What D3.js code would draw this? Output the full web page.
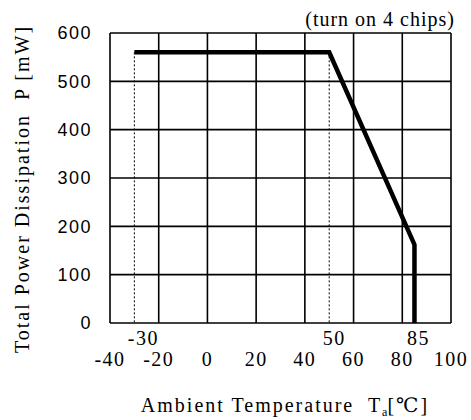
<!DOCTYPE html>
<html>
<head>
<meta charset="utf-8">
<script src="https://cdn.jsdelivr.net/npm/d3@7"></script>
<style>
  body { margin: 0; background: #fff; }
  text { font-family: "Liberation Serif", "DejaVu Serif", serif; fill: #000; }
</style>
</head>
<body>
<div id="chart"></div>
<script>
// derating curve (temperature in C, power in mW)
const curveTemp = [-30, 50, 85, 85];
const curvePower = [560, 560, 162, 0];
const xTicks = [-40, -20, 0, 20, 40, 60, 80, 100];
const yTicks = [0, 100, 200, 300, 400, 500, 600];
const markTemps = [-30, 50, 85];   // upper row of x labels
const dottedTemps = [-30, 50];

const width = 471, height = 420;
const margin = {top: 33, right: 20, bottom: 97, left: 110};

const svg = d3.select("#chart").append("svg")
    .attr("width", width)
    .attr("height", height);

const x = d3.scaleLinear().domain([-40, 100]).range([margin.left, width - margin.right]);
const y = d3.scaleLinear().domain([0, 600]).range([height - margin.bottom, margin.top]);

// grid
svg.append("g").selectAll("line")
    .data(xTicks)
    .enter().append("line")
    .attr("x1", d => x(d)).attr("x2", d => x(d))
    .attr("y1", y(0)).attr("y2", y(600))
    .attr("stroke", "#000").attr("stroke-width", 1.6);
svg.append("g").selectAll("line")
    .data(yTicks)
    .enter().append("line")
    .attr("x1", x(-40)).attr("x2", x(100))
    .attr("y1", d => y(d)).attr("y2", d => y(d))
    .attr("stroke", "#000").attr("stroke-width", 1.6);

// dotted guides
svg.append("g").selectAll("line")
    .data(dottedTemps)
    .enter().append("line")
    .attr("x1", d => x(d)).attr("x2", d => x(d))
    .attr("y1", y(curvePower[0])).attr("y2", y(0))
    .attr("stroke", "#000").attr("stroke-width", 1)
    .attr("stroke-dasharray", "2,2");

// curve
const pts = curveTemp.map((t, i) => [t, curvePower[i]]);
svg.append("path")
    .attr("d", d3.line().x(d => x(d[0])).y(d => y(d[1]))(pts))
    .attr("fill", "none")
    .attr("stroke", "#000")
    .attr("stroke-width", 4.5)
    .attr("stroke-linejoin", "miter");

// y tick labels
svg.append("g").selectAll("text")
    .data(yTicks)
    .enter().append("text")
    .attr("x", 92)
    .attr("y", d => y(d))
    .attr("dy", "0.35em")
    .attr("text-anchor", "end")
    .style("font-family", "'Liberation Sans', Arial, sans-serif")
    .style("font-size", "18px")
    .style("letter-spacing", "1.5px")
    .text(d => d);

// x tick labels
svg.append("g").selectAll("text")
    .data(xTicks)
    .enter().append("text")
    .attr("x", d => x(d))
    .attr("y", 366)
    .attr("text-anchor", "middle")
    .style("font-size", "20px")
    .style("letter-spacing", "1.5px")
    .text(d => d);

// special temperatures
const markShift = {"-30": 9, "50": 5, "85": 4};
svg.append("g").selectAll("text")
    .data(markTemps)
    .enter().append("text")
    .attr("x", d => x(d) + markShift[d])
    .attr("y", 345)
    .attr("text-anchor", "middle")
    .style("font-size", "20px")
    .style("letter-spacing", "1.5px")
    .text(d => d);

// note
svg.append("text")
    .attr("x", 455)
    .attr("y", 26)
    .attr("text-anchor", "end")
    .style("font-size", "20px")
    .style("letter-spacing", "1px")
    .text("(turn on 4 chips)");

// y title
svg.append("text")
    .attr("transform", "translate(29,189) rotate(-90)")
    .attr("text-anchor", "middle")
    .style("font-size", "20px")
    .style("letter-spacing", "2px")
    .style("white-space", "pre")
    .text("Total Power Dissipation  P [mW]");

// x title
const xt = svg.append("text")
    .attr("x", 285)
    .attr("y", 412)
    .attr("text-anchor", "middle")
    .style("font-size", "20px")
    .style("letter-spacing", "2px")
    .style("white-space", "pre");
xt.append("tspan").text("Ambient Temperature  T");
xt.append("tspan").attr("dy", 4).style("font-size", "12px").style("letter-spacing", "0px").text("a");
xt.append("tspan").attr("dy", -4).text("[℃]");
</script>
</body>
</html>
